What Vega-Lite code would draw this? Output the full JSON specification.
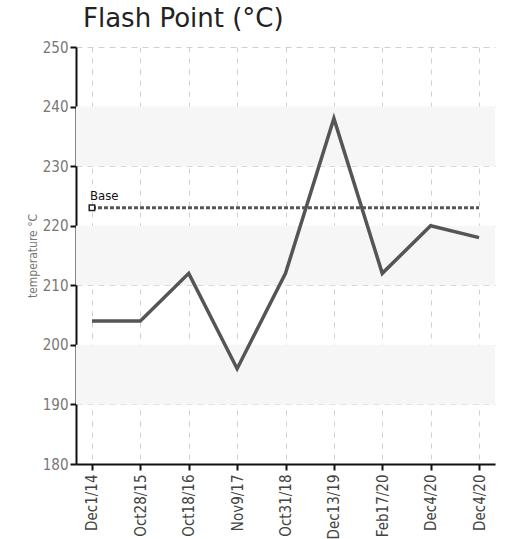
{
  "$schema": "https://vega.github.io/schema/vega-lite/v6.json",
  "width": 419,
  "height": 417,
  "autosize": {"type": "none"},
  "padding": {"left": 76, "top": 47, "right": 13, "bottom": 75},
  "background": "white",
  "title": {
    "text": "Flash Point (°C)",
    "anchor": "start",
    "frame": "group",
    "dx": 7,
    "offset": 8,
    "font": "DejaVu Sans",
    "fontSize": 26,
    "fontWeight": "normal",
    "color": "#222"
  },
  "config": {
    "view": {"stroke": null},
    "axis": {
      "labelFont": "DejaVu Sans Condensed",
      "titleFont": "DejaVu Sans Condensed",
      "domainColor": "#111",
      "domainWidth": 2,
      "tickColor": "#111",
      "tickWidth": 2,
      "tickSize": 6,
      "gridColor": "#d0d0d0",
      "gridDash": [6, 5],
      "gridWidth": 1
    }
  },
  "datasets": {
    "series": [
      {"i": 0, "date": "Dec1/14", "temp": 204},
      {"i": 1, "date": "Oct28/15", "temp": 204},
      {"i": 2, "date": "Oct18/16", "temp": 212},
      {"i": 3, "date": "Nov9/17", "temp": 196},
      {"i": 4, "date": "Oct31/18", "temp": 212},
      {"i": 5, "date": "Dec13/19", "temp": 238},
      {"i": 6, "date": "Feb17/20", "temp": 212},
      {"i": 7, "date": "Dec4/20", "temp": 220},
      {"i": 8, "date": "Dec4/20", "temp": 218}
    ],
    "bands": [
      {"lo": 230, "hi": 240},
      {"lo": 210, "hi": 220},
      {"lo": 190, "hi": 200}
    ],
    "base": [
      {"i": 0, "i2": 8, "value": 223, "label": "Base"}
    ]
  },
  "layer": [
    {
      "data": {"name": "bands"},
      "mark": {"type": "rect", "fill": "#f6f6f6"},
      "encoding": {
        "y": {"field": "hi", "type": "quantitative", "scale": {"domain": [180, 250]}},
        "y2": {"field": "lo"}
      }
    },
    {
      "data": {"name": "series"},
      "mark": {"type": "line", "color": "#555", "strokeWidth": 3.5},
      "encoding": {
        "x": {
          "field": "i",
          "type": "ordinal",
          "scale": {"type": "point", "padding": 0.33},
          "axis": {
            "title": null,
            "labelAngle": -90,
            "labelFontSize": 15,
            "labelColor": "#444",
            "labelPadding": 4,
            "grid": true,
            "gridDash": [5, 6],
            "labelExpr": "['Dec1/14','Oct28/15','Oct18/16','Nov9/17','Oct31/18','Dec13/19','Feb17/20','Dec4/20','Dec4/20'][datum.value]"
          }
        },
        "y": {
          "field": "temp",
          "type": "quantitative",
          "scale": {"domain": [180, 250], "nice": false},
          "axis": {
            "title": "temperature °C",
            "titleFontSize": 12,
            "titleFontWeight": "normal",
            "titleColor": "#777",
            "titlePadding": 3,
            "labelFontSize": 15,
            "labelColor": "#777",
            "values": [180, 190, 200, 210, 220, 230, 240, 250],
            "grid": true
          }
        }
      }
    },
    {
      "data": {"name": "base"},
      "mark": {"type": "rule", "color": "#555", "strokeWidth": 3, "strokeDash": [4, 2]},
      "encoding": {
        "x": {"field": "i", "type": "ordinal"},
        "x2": {"field": "i2"},
        "y": {"field": "value", "type": "quantitative"}
      }
    },
    {
      "data": {"name": "base"},
      "mark": {"type": "point", "shape": "square", "size": 30, "filled": true, "fill": "white", "stroke": "#222", "strokeWidth": 1.5, "opacity": 1},
      "encoding": {
        "x": {"field": "i", "type": "ordinal"},
        "y": {"field": "value", "type": "quantitative"}
      }
    },
    {
      "data": {"name": "base"},
      "mark": {"type": "text", "align": "left", "baseline": "bottom", "dx": -2, "dy": -5, "font": "DejaVu Sans Condensed", "fontSize": 13, "color": "#111"},
      "encoding": {
        "x": {"field": "i", "type": "ordinal"},
        "y": {"field": "value", "type": "quantitative"},
        "text": {"field": "label"}
      }
    }
  ]
}
